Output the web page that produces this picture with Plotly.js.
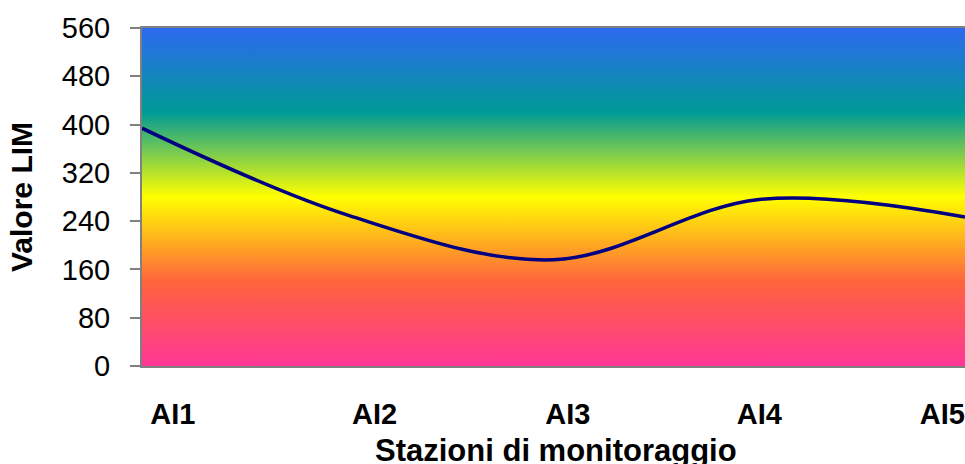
<!DOCTYPE html>
<html>
<head>
<meta charset="utf-8">
<script src="https://cdn.plot.ly/plotly-3.0.1.min.js"></script>
<style>html,body{margin:0;padding:0;background:#fff;}#chart{width:965px;height:464px;}</style>
</head>
<body>
<div id="chart"></div>
<script>
// Data
var stations = ['AI1', 'AI2', 'AI3', 'AI4', 'AI5'];
var limValues = [394, 250, 176, 276, 247];
var yTicks = [0, 80, 160, 240, 320, 400, 480, 560];
var xTitle = 'Stazioni di monitoraggio';
var yTitle = 'Valore LIM';

// Label placement offsets (layout only): where Excel drew the category labels
var labelPos = [0.15, 1.13, 2.07, 3.0, 3.89];

var xIdx = stations.map(function (_, i) { return i; });

var grad = '<svg xmlns="http://www.w3.org/2000/svg" width="100" height="100" preserveAspectRatio="none">' +
  '<defs><linearGradient id="g" x1="0" y1="0" x2="0" y2="1">' +
  '<stop offset="0" stop-color="rgb(45,105,240)"/>' +
  '<stop offset="0.25" stop-color="rgb(0,155,150)"/>' +
  '<stop offset="0.5" stop-color="rgb(255,255,0)"/>' +
  '<stop offset="0.75" stop-color="rgb(255,100,60)"/>' +
  '<stop offset="1" stop-color="rgb(255,55,150)"/>' +
  '</linearGradient></defs><rect x="0" y="0" width="100" height="100" fill="url(#g)"/></svg>';

var trace = {
  type: 'scatter',
  mode: 'lines',
  x: xIdx,
  y: limValues,
  line: { color: '#000080', width: 3.5, shape: 'spline', smoothing: 1 },
  hoverinfo: 'skip',
  showlegend: false
};

var font = 'Liberation Sans, Arial, sans-serif';

var layout = {
  width: 965,
  height: 464,
  margin: { l: 142, r: 0, t: 28, b: 98 },
  paper_bgcolor: '#ffffff',
  plot_bgcolor: 'rgba(0,0,0,0)',
  showlegend: false,
  images: [{
    source: 'data:image/svg+xml;charset=utf-8,' + encodeURIComponent(grad),
    xref: 'paper', yref: 'paper', x: 0, y: 1, sizex: 1, sizey: 1,
    xanchor: 'left', yanchor: 'top', sizing: 'stretch', layer: 'below'
  }],
  annotations: [{
    text: xTitle,
    xref: 'paper', yref: 'paper', x: 0.503, y: -0.25,
    xanchor: 'center', yanchor: 'middle', showarrow: false,
    font: { family: font, size: 31, color: '#000', weight: 'bold' }
  }],
  xaxis: {
    range: [0, 4],
    tickmode: 'array',
    tickvals: labelPos,
    ticktext: stations,
    ticks: '',
    showgrid: false,
    zeroline: false,
    showline: true,
    mirror: true,
    linecolor: '#808080',
    linewidth: 2,
    ticklabelstandoff: 21,
    tickfont: { family: font, size: 29, color: '#000', weight: 'bold' },
    fixedrange: true
  },
  yaxis: {
    range: [0, 560],
    tickmode: 'array',
    tickvals: yTicks,
    ticktext: yTicks.map(String),
    ticks: 'outside',
    ticklen: 10,
    tickwidth: 2,
    tickcolor: '#808080',
    showgrid: false,
    zeroline: false,
    showline: true,
    linecolor: '#808080',
    linewidth: 2,
    ticklabelstandoff: 14,
    tickfont: { family: font, size: 29, color: '#000' },
    title: { text: yTitle, standoff: 20,
             font: { family: font, size: 30, color: '#000', weight: 'bold' } },
    fixedrange: true
  }
};

Plotly.newPlot('chart', [trace], layout, { displayModeBar: false, staticPlot: true });
</script>
</body>
</html>
